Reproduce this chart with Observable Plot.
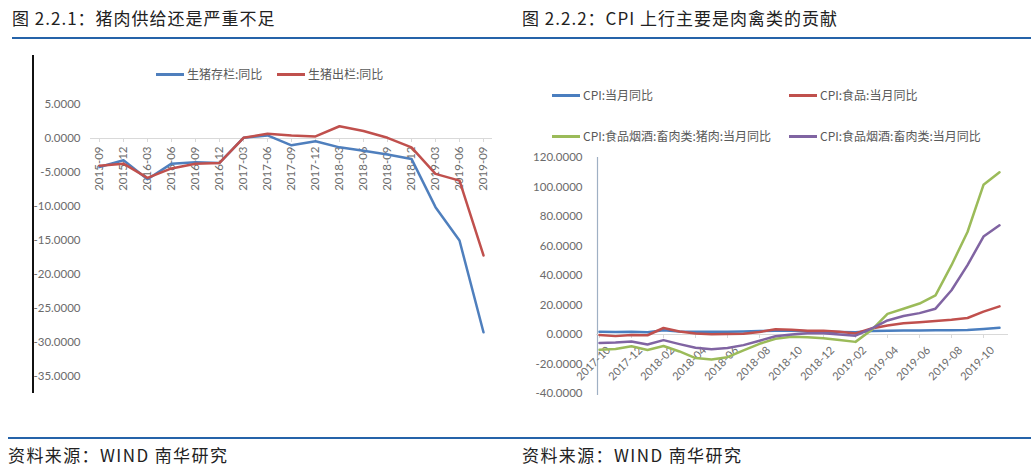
<!DOCTYPE html>
<html>
<head>
<meta charset="utf-8">
<script src="https://cdn.jsdelivr.net/npm/d3@7"></script>
<script src="https://cdn.jsdelivr.net/npm/@observablehq/plot@0.6"></script>
<style>
  html, body { margin: 0; padding: 0; background: #fff; }
  body { width: 1031px; height: 475px; position: relative; overflow: hidden;
         font-family: "Noto Sans CJK SC", "Noto Sans", sans-serif; }
  .abs { position: absolute; }
  .title { font-size: 17px; letter-spacing: 1px; line-height: 20px; color: #222; top: 8px; white-space: nowrap; }
  .rule { height: 1.5px; background: #2563a9; }
  .source { font-size: 17px; letter-spacing: 1.4px; line-height: 20px; color: #222; top: 445px; white-space: nowrap; }
  .legend { font-size: 12px; line-height: 16px; color: #595959; white-space: nowrap; display: flex; align-items: center; }
  .legend .sw { display: inline-block; width: 28px; height: 3px; margin-right: 3px; }
  .frame { width: 1.5px; background: #111; }
</style>
</head>
<body>
<div class="abs title" style="left:12px">图 2.2.1：猪肉供给还是严重不足</div>
<div class="abs title" style="left:522px">图 2.2.2：CPI 上行主要是肉禽类的贡献</div>
<div class="abs rule" style="left:12px; right:0; top:37px"></div>
<div class="abs rule" style="left:8px; right:0; top:437px"></div>
<div class="abs source" style="left:8px">资料来源：WIND 南华研究</div>
<div class="abs source" style="left:522px">资料来源：WIND 南华研究</div>
<div class="abs frame" style="left:32px; top:55px; height:338px"></div>
<div id="left" class="abs" style="left:0; top:40px"></div>
<div id="right" class="abs" style="left:515px; top:40px"></div>
<script>
// ---------- Left chart data: 生猪存栏 / 生猪出栏 同比 ----------
const leftCats = ["2015-09","2015-12","2016-03","2016-06","2016-09","2016-12","2017-03","2017-06","2017-09","2017-12","2018-03","2018-06","2018-09","2018-12","2019-03","2019-06","2019-09"];
const stockYoY = [-4.2,-3.2,-6.0,-3.7,-3.5,-3.6,0.1,0.45,-1.0,-0.4,-1.3,-1.8,-2.35,-3.0,-10.1,-15.0,-28.5];
const slaughterYoY = [-4.0,-3.7,-5.8,-4.4,-3.7,-3.6,0.1,0.7,0.45,0.3,1.8,1.1,0.1,-1.3,-5.2,-6.2,-17.2];
const leftSeries = ["生猪存栏:同比","生猪出栏:同比"];
const leftColors = ["#4f7fbd","#c0504d"];
const leftTicks = [5,0,-5,-10,-15,-20,-25,-30,-35];

// ---------- Right chart data: CPI 同比 ----------
const months = ["2017-10","2017-11","2017-12","2018-01","2018-02","2018-03","2018-04","2018-05","2018-06","2018-07","2018-08","2018-09","2018-10","2018-11","2018-12","2019-01","2019-02","2019-03","2019-04","2019-05","2019-06","2019-07","2019-08","2019-09","2019-10","2019-11"];
const cpiAll  = [1.9,1.7,1.8,1.5,2.9,2.1,1.8,1.8,1.9,2.1,2.3,2.5,2.5,2.2,1.9,1.7,1.5,2.3,2.5,2.7,2.7,2.8,2.8,3.0,3.8,4.5];
const cpiFood = [-0.4,-1.1,-0.4,-0.5,4.4,2.1,0.7,0.1,0.3,0.5,1.7,3.6,3.3,2.5,2.5,1.9,0.7,4.1,6.1,7.7,8.3,9.1,10.0,11.2,15.5,19.1];
const cpiPork = [-10.3,-9.8,-8.0,-10.5,-7.8,-11.5,-16.0,-17.0,-15.4,-10.8,-6.3,-2.9,-1.5,-1.8,-2.5,-3.8,-5.0,3.0,14.0,17.5,21.0,26.5,47.0,69.5,101.5,110.0];
const cpiMeat = [-5.8,-5.5,-4.7,-6.8,-3.8,-6.5,-9.0,-10.0,-9.2,-7.2,-4.2,-1.2,0.0,0.8,0.8,0.0,-0.8,4.0,9.5,12.5,14.5,17.5,30.0,47.0,66.4,74.0];
const rightSeries = ["CPI:当月同比","CPI:食品:当月同比","CPI:食品烟酒:畜肉类:猪肉:当月同比","CPI:食品烟酒:畜肉类:当月同比"];
const rightColors = ["#4a7ebf","#c0504d","#9bbb59","#8064a2"];
const rightTicks = [120,100,80,60,40,20,0,-20,-40];
const rightLabels = months.filter((d, i) => i % 2 === 0);

const fmt = d => d.toFixed(4);
const numFont = "Lato, 'Liberation Sans', sans-serif";

// ---------- Left chart ----------
const leftData = leftCats.flatMap((c, i) => [
  {date: c, value: stockYoY[i], series: leftSeries[0]},
  {date: c, value: slaughterYoY[i], series: leftSeries[1]}
]);
const leftPlot = Plot.plot({
  width: 510, height: 360,
  marginTop: 64, marginBottom: 24, marginLeft: 95, marginRight: 23,
  style: {background: "transparent", overflow: "visible", fontFamily: numFont},
  x: {type: "point", domain: leftCats, padding: 0, axis: null},
  y: {domain: [-35, 5], axis: null},
  color: {domain: leftSeries, range: leftColors},
  marks: [
    Plot.axisY(leftTicks, {tickFormat: fmt, tickSize: 0, tickPadding: 15, fontSize: 11.5, fill: "#6b6b6b", label: null}),
    Plot.ruleY([0], {stroke: "#d9d9d9", strokeWidth: 1.2, insetLeft: -5, insetRight: -5}),
    Plot.ruleX(leftCats, {x: d => d, y1: 0, y2: 0, insetBottom: -4, stroke: "#d9d9d9"}),
    Plot.text(leftCats, {x: d => d, y: 0, text: d => d, rotate: -90, textAnchor: "end", lineAnchor: "middle", dy: 8, fontSize: 11.5, fill: "#6b6b6b"}),
    Plot.line(leftData, {x: "date", y: "value", z: "series", stroke: "series", strokeWidth: 2.5})
  ]
});
document.getElementById("left").appendChild(leftPlot);

// ---------- Right chart ----------
const rightData = months.flatMap((m, i) => [
  {date: m, value: cpiAll[i], series: rightSeries[0]},
  {date: m, value: cpiFood[i], series: rightSeries[1]},
  {date: m, value: cpiPork[i], series: rightSeries[2]},
  {date: m, value: cpiMeat[i], series: rightSeries[3]}
]);
const rightPlot = Plot.plot({
  width: 516, height: 370,
  marginTop: 117, marginBottom: 17, marginLeft: 81, marginRight: 29,
  style: {background: "transparent", overflow: "visible", fontFamily: numFont},
  x: {type: "point", domain: months, padding: 0, axis: null},
  y: {domain: [-40, 120], axis: null},
  color: {domain: rightSeries, range: rightColors},
  marks: [
    Plot.axisY(rightTicks, {tickFormat: fmt, tickSize: 0, tickPadding: 14, fontSize: 11.5, fill: "#6b6b6b", label: null}),
    Plot.ruleX([months[0]], {dx: -2, stroke: "#9fb0c4", strokeWidth: 1.2, insetBottom: -2}),
    Plot.ruleY([0], {stroke: "#d9d9d9", strokeWidth: 1.2, insetRight: -6}),
    Plot.ruleX(rightLabels, {x: d => d, y1: 0, y2: 0, insetBottom: -4, stroke: "#d9d9d9"}),
    Plot.text(rightLabels, {x: d => d, y: 0, text: d => d, rotate: -45, textAnchor: "end", lineAnchor: "middle", dx: 9, dy: 14, fontSize: 11, fill: "#6b6b6b"}),
    Plot.line(rightData, {x: "date", y: "value", z: "series", stroke: "series", strokeWidth: 2.5})
  ]
});
document.getElementById("right").appendChild(rightPlot);

// ---------- Legends (HTML) ----------
function legendItem(label, color, left, top) {
  const el = document.createElement("div");
  el.className = "abs legend";
  el.style.left = left + "px";
  el.style.top = top + "px";
  const sw = document.createElement("span");
  sw.className = "sw";
  sw.style.background = color;
  el.appendChild(sw);
  el.appendChild(document.createTextNode(label));
  document.body.appendChild(el);
}
legendItem(leftSeries[0], leftColors[0], 156, 66);
legendItem(leftSeries[1], leftColors[1], 277, 66);
legendItem(rightSeries[0], rightColors[0], 552, 87);
legendItem(rightSeries[1], rightColors[1], 789, 87);
legendItem(rightSeries[2], rightColors[2], 552, 128);
legendItem(rightSeries[3], rightColors[3], 789, 128);
</script>
</body>
</html>
